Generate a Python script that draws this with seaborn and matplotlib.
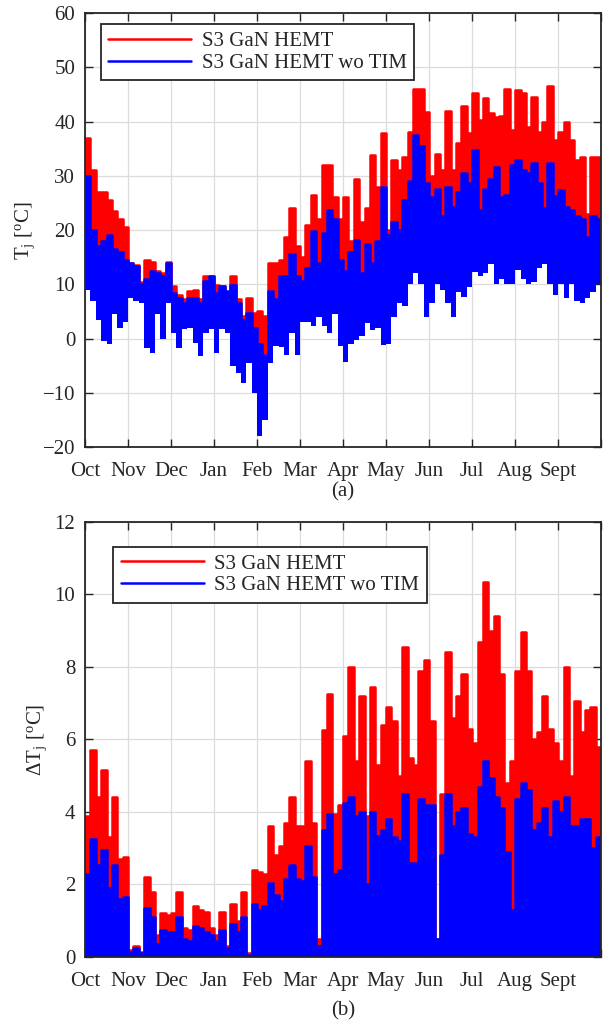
import numpy as np
import seaborn as sns
import matplotlib.pyplot as plt

# month tick labels (Oct .. Sept), 8 samples read per month
months = ['Oct', 'Nov', 'Dec', 'Jan', 'Feb', 'Mar', 'Apr', 'May', 'Jun', 'Jul', 'Aug', 'Sept']

# (a) junction temperature, daily-ish peaks / troughs [degC]
a_red_hi = [37, 31, 27, 27, 25.5, 23.5, 22, 20.5,
            14, 13.5, 10.5, 14.5, 14.2, 12.5, 12, 14.2,
            9.6, 8, 7.2, 8.7, 9, 7.2, 11.5, 11.5,
            9.9, 9.6, 7.8, 11.5, 7.2, 4.1, 7.5, 4.7,
            5, 4.1, 13.9, 13.9, 14.5, 18.8, 24, 17,
            15, 21, 26.5, 22, 32, 32, 26, 22,
            26, 18, 29.5, 21.5, 24, 33.8, 28, 37.8,
            20, 33, 31, 33.5, 38, 46, 46, 41.8,
            30, 34, 31, 42, 31, 36, 42.8, 37.8,
            45.2, 40.3, 44.3, 41.5, 40.9, 41, 46, 38.5,
            45.8, 45.2, 39, 44.6, 38, 40, 46.5, 36.6,
            38, 40, 36.6, 33, 33.5, 23, 33.5, 33.5]
a_blue_hi = [30, 20, 17, 18, 19, 16.5, 16, 14.5,
             14, 13.3, 10, 11, 12.4, 12, 11.5, 14,
             8.4, 7.5, 6.6, 7.5, 7.5, 6.6, 10.6, 11.5,
             8.4, 9.6, 8.7, 9.9, 6.6, 3.5, 4.7, 2,
             -1, -3, 8.7, 7.2, 11.5, 11.5, 15.5, 11.5,
             10.6, 13, 19.8, 13.9, 19.4, 23.7, 22, 14.5,
             12.5, 16, 18.2, 12, 17.5, 14, 18, 28,
             19, 21.5, 20, 25.5, 29, 37.5, 35.5, 28.6,
             26, 27.5, 22.5, 28, 24.3, 27, 30.5, 28.6,
             34.8, 23.7, 27.5, 29.5, 31.7, 26, 26.5, 32,
             33, 31, 30.5, 32.3, 28.6, 24, 32.3, 26.2,
             27.4, 24.3, 23.7, 22.5, 22, 18.7, 22.5, 22]
a_lo = [9, 7, 3.5, -0.5, -1, 4.5, 2, 3,
        7.5, 7, 6.5, -1.7, -2.6, 4.5, 0, 6.5,
        1, -1.7, 1.7, 2, -0.8, -3.3, 1, 1.7,
        -2.6, 1.7, 1, -5.1, -6.3, -8.2, -4.5, -10,
        -18, -15, -4.5, -1.4, -1.5, -3, 1, -3,
        3, 3, 2.3, 4, 2.3, 1, 4.5, -1.4,
        -4.3, -1, -0.3, 0.5, 2.8, 1.5, 2, -1.2,
        -1, 4, 6.5, 6, 10, 12, 10, 4,
        6.5, 10, 9, 6.5, 4, 8.5, 7.7, 9.5,
        12.3, 11.5, 12, 13.8, 10, 11, 10, 10,
        12.6, 11, 10, 10.5, 13, 13.8, 10, 8,
        10, 7.5, 10, 7, 6.5, 7.5, 8.5, 10]

# (b) junction temperature swing peaks [degC]
b_red_hi = [3.9, 5.7, 4.4, 5.15, 3.3, 4.4, 2.7, 2.75,
            0.2, 0.3, 0.15, 2.2, 1.8, 0.6, 1.2, 1.15,
            1.2, 1.8, 0.8, 0.75, 1.4, 1.3, 1.25, 0.8,
            0.6, 1.25, 0.3, 1.45, 1.0, 1.8, 0.1, 2.4,
            2.35, 2.3, 3.6, 2.8, 3.05, 3.7, 4.4, 3.6,
            3.6, 5.4, 3.7, 0.5, 6.25, 7.25, 3.95, 4.2,
            6.1, 8.0, 5.4, 7.2, 3.9, 7.45, 5.3, 6.4,
            6.9, 6.5, 5.0, 8.55, 5.5, 5.3, 7.9, 8.2,
            6.5, 0.5, 4.5, 8.4, 6.6, 7.2, 7.8, 6.3,
            5.9, 8.7, 10.35, 9.0, 9.4, 7.8, 4.8, 5.4,
            7.9, 8.95, 7.9, 6.0, 6.2, 7.2, 6.3, 5.9,
            5.4, 8.0, 5.0, 7.05, 6.2, 6.8, 6.9, 5.8]
b_blue_hi = [2.3, 3.25, 2.55, 2.95, 1.9, 2.55, 1.6, 1.65,
             0.15, 0.25, 0.1, 1.35, 1.1, 0.35, 0.75, 0.7,
             0.7, 1.1, 0.5, 0.45, 0.85, 0.8, 0.7, 0.6,
             0.45, 0.75, 0.25, 0.9, 0.7, 1.1, 0.05, 1.45,
             1.3, 1.4, 2.05, 1.7, 1.55, 2.15, 2.55, 2.15,
             2.1, 3.05, 2.2, 0.3, 3.5, 3.95, 2.3, 2.4,
             4.25, 4.4, 3.9, 4.0, 2.0, 4.0, 3.35, 3.5,
             3.8, 3.3, 3.2, 4.5, 2.6, 2.6, 4.35, 4.2,
             4.2, 0.5, 2.8, 4.5, 3.6, 4.0, 4.1, 3.4,
             3.3, 4.7, 5.4, 4.95, 4.4, 4.1, 2.9, 1.3,
             4.35, 4.8, 4.6, 3.5, 3.7, 4.1, 3.3, 4.3,
             4.0, 4.4, 3.6, 3.6, 3.8, 3.8, 3.0, 3.3]

labels = ['S3 GaN HEMT', 'S3 GaN HEMT wo TIM']

sns.set_style('ticks')
plt.rcParams['font.family'] = ['Liberation Serif', 'DejaVu Serif']
plt.rcParams['mathtext.fontset'] = 'custom'
plt.rcParams['mathtext.rm'] = 'Liberation Serif'
plt.rcParams['mathtext.it'] = 'Liberation Serif:italic'
dark = '#262626'

fig = plt.figure(figsize=(6.03, 10.27), dpi=100)
ax1 = fig.add_axes([0.141, 0.5647, 0.856, 0.4226])
ax2 = fig.add_axes([0.141, 0.0682, 0.856, 0.4236])

n = len(a_lo)
edges = np.arange(n + 1) / 8.0


def ext(v):
    return np.append(v, v[-1])


def draw(ax, lo, red, blue):
    for hi, col, lab in [(red, '#ff0000', labels[0]), (blue, '#0000ff', labels[1])]:
        ax.fill_between(edges, ext(lo), ext(hi), step='post', color=col, lw=0, zorder=3)
        sns.lineplot(x=edges, y=ext(hi), ax=ax, color=col, lw=0.6, drawstyle='steps-post',
                     estimator=None, sort=False, label=lab, zorder=3)


draw(ax1, a_lo, a_red_hi, a_blue_hi)
draw(ax2, np.zeros(n), b_red_hi, b_blue_hi)

for ax, lo_, hi_, step, ylab in [(ax1, -20, 60, 10, r'T$_{\mathregular{j}}$ [$^{\mathregular{o}}$C]'),
                                 (ax2, 0, 12, 2, r'$\Delta$T$_{\mathregular{j}}$ [$^{\mathregular{o}}$C]')]:
    ax.set_xlim(0, 12)
    ax.set_ylim(lo_, hi_)
    ax.set_xticks(range(13))
    ax.set_xticklabels(months + [''])
    ax.set_yticks(np.arange(lo_, hi_ + step, step))
    ax.grid(True, color='#dcdcdc', lw=0.9, zorder=0)
    ax.set_axisbelow(True)
    ax.tick_params(direction='in', length=6, width=1.0, colors=dark, labelsize=15,
                   top=True, right=True, pad=7)
    ax.tick_params(axis='x', pad=10.5)
    for s in ax.spines.values():
        s.set_color(dark)
        s.set_linewidth(1.3)
        s.set_zorder(5)
    ax.set_ylabel(ylab, fontsize=15, color=dark, labelpad=4)
    ax.set_xlabel('')

leg_pos = {ax1: (0.03, 0.974), ax2: (0.055, 0.943)}
for ax in (ax1, ax2):
    h, l = ax.get_legend_handles_labels()
    for hh in h:
        hh.set_linewidth(1.8)
    lg = ax.legend(h, l, loc='upper left', bbox_to_anchor=leg_pos[ax], fontsize=15,
                   frameon=True, fancybox=False, shadow=False, handlelength=4.0,
                   borderpad=0.35, labelspacing=0.1, handletextpad=0.5, borderaxespad=0)
    lg.get_frame().set_edgecolor(dark)
    lg.get_frame().set_linewidth(1.3)
    lg.get_frame().set_alpha(1)
    lg.set_zorder(10)

fig.text(0.569, 0.521, '(a)', ha='center', va='center', fontsize=15, color=dark)
fig.text(0.569, 0.016, '(b)', ha='center', va='center', fontsize=15, color=dark)

fig.savefig('out.png', dpi=100)
